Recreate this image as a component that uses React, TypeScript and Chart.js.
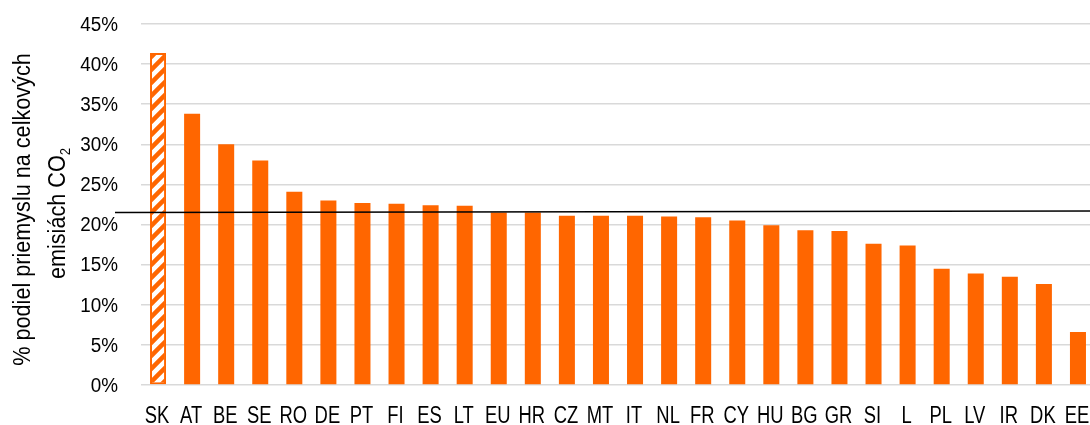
import React, { useEffect, useRef } from 'react';
import { Chart, registerables } from 'chart.js';

Chart.register(...registerables);

const categories = ['SK', 'AT', 'BE', 'SE', 'RO', 'DE', 'PT', 'FI', 'ES', 'LT', 'EU', 'HR', 'CZ', 'MT', 'IT', 'NL', 'FR', 'CY', 'HU', 'BG', 'GR', 'SI', 'L', 'PL', 'LV', 'IR', 'DK', 'EE'];
const shares = [41.4, 33.8, 30.0, 28.0, 24.1, 23.0, 22.7, 22.6, 22.4, 22.35, 21.5, 21.5, 21.1, 21.1, 21.1, 21.0, 20.9, 20.5, 19.9, 19.3, 19.2, 17.6, 17.4, 14.5, 13.9, 13.5, 12.6, 6.6];
const averageLine = [21.5, 21.7]; // start / end value of the reference line
const yMin = 0;
const yMax = 45;
const yStep = 5;
const yTitle = ['% podiel priemyslu na celkových', 'emisiách CO\u2082'];
const highlighted = ['SK'];

const ORANGE = '#FF6600';
const FONT = "'Liberation Sans', Arial, sans-serif";

function makeHatch(): CanvasPattern | string {
  const size = 13;
  const c = document.createElement('canvas');
  c.width = size;
  c.height = size;
  const g = c.getContext('2d');
  if (!g) return ORANGE;
  g.fillStyle = 'rgba(255,255,255,0.85)';
  g.fillRect(0, 0, size, size);
  g.strokeStyle = ORANGE;
  g.lineWidth = 4.5;
  g.beginPath();
  g.moveTo(-size / 2, size / 2);
  g.lineTo(size / 2, -size / 2);
  g.moveTo(0, size);
  g.lineTo(size, 0);
  g.moveTo(size / 2, size * 1.5);
  g.lineTo(size * 1.5, size / 2);
  g.stroke();
  const p = g.createPattern(c, 'repeat');
  return p || ORANGE;
}

const avgLinePlugin = {
  id: 'avgLine',
  afterDatasetsDraw(chart: any) {
    const { ctx, chartArea, scales } = chart;
    const y = scales.y;
    const y0 = y.getPixelForValue(averageLine[0]);
    const y1 = y.getPixelForValue(averageLine[1]);
    ctx.save();
    ctx.strokeStyle = '#000000';
    ctx.lineWidth = 1.5;
    ctx.beginPath();
    ctx.moveTo(chartArea.left - 26, y0);
    ctx.lineTo(chart.width, y1);
    ctx.stroke();
    ctx.restore();
  },
};

// Draws condensed tick labels and the axis title (the reference uses narrow lettering)
const textPlugin = {
  id: 'condensedText',
  afterDraw(chart: any) {
    const { ctx, chartArea, scales } = chart;
    ctx.save();
    ctx.fillStyle = '#000';
    ctx.textBaseline = 'alphabetic';

    // x labels
    ctx.font = `23px ${FONT}`;
    ctx.textAlign = 'center';
    scales.x.ticks.forEach((t: any, i: number) => {
      const x = scales.x.getPixelForTick(i);
      ctx.save();
      ctx.translate(x - 1, chartArea.bottom + 38.3);
      ctx.scale(0.8, 1);
      ctx.fillText(String(scales.x.getLabelForValue(t.value)), 0, 0);
      ctx.restore();
    });

    // y labels
    ctx.font = `20.5px ${FONT}`;
    ctx.textAlign = 'right';
    scales.y.ticks.forEach((t: any) => {
      const y = scales.y.getPixelForValue(t.value);
      ctx.save();
      ctx.translate(chartArea.left - 23, y + 6.8);
      ctx.scale(0.92, 1);
      ctx.fillText(`${t.value}%`, 0, 0);
      ctx.restore();
    });

    // y title (rotated, two lines, real subscript)
    const midY = (chartArea.top + chartArea.bottom) / 2;
    const lines = [
      { text: yTitle[0], x: 30, y: midY + 5 },
      { text: yTitle[1], x: 65, y: midY + 9 },
    ];
    ctx.textAlign = 'left';
    lines.forEach((ln) => {
      const parts: { s: string; sub: boolean }[] = [];
      let buf = '';
      for (const ch of ln.text) {
        if (ch === '\u2082') {
          if (buf) parts.push({ s: buf, sub: false });
          buf = '';
          parts.push({ s: '2', sub: true });
        } else buf += ch;
      }
      if (buf) parts.push({ s: buf, sub: false });
      const widths = parts.map((p) => {
        ctx.font = p.sub ? `14px ${FONT}` : `23px ${FONT}`;
        return ctx.measureText(p.s).width;
      });
      const total = widths.reduce((a, b) => a + b, 0);
      ctx.save();
      ctx.translate(ln.x, ln.y);
      ctx.rotate(-Math.PI / 2);
      ctx.scale(0.94, 1);
      let cx = -total / 2;
      parts.forEach((p, i) => {
        ctx.font = p.sub ? `14px ${FONT}` : `23px ${FONT}`;
        ctx.fillText(p.s, cx, p.sub ? 5 : 0);
        cx += widths[i];
      });
      ctx.restore();
    });
    ctx.restore();
  },
};

export default function App() {
  const ref = useRef<HTMLCanvasElement>(null);

  useEffect(() => {
    if (!ref.current) return;
    const hatch = makeHatch();
    const bg = categories.map((c) => (highlighted.includes(c) ? hatch : ORANGE));
    const bw = categories.map((c) => (highlighted.includes(c) ? 2 : 0));

    const chart = new Chart(ref.current, {
      type: 'bar',
      data: {
        labels: categories,
        datasets: [
          {
            data: shares,
            backgroundColor: bg as any,
            borderColor: ORANGE,
            borderWidth: bw,
            borderSkipped: false,
            barPercentage: 0.47,
            categoryPercentage: 1,
          },
        ],
      },
      options: {
        responsive: false,
        animation: false,
        devicePixelRatio: 1,
        layout: { padding: { top: 24, right: 0, bottom: 0, left: 0 } },
        plugins: {
          legend: { display: false },
          tooltip: { enabled: false },
        },
        scales: {
          x: {
            grid: { display: false, drawTicks: false },
            border: { display: false },
            ticks: { display: false, autoSkip: false, maxRotation: 0 },
            afterFit(scale: any) {
              scale.height = 40;
              scale.paddingLeft = 0;
              scale.paddingRight = 0;
            },
          },
          y: {
            min: yMin,
            max: yMax,
            grid: { color: '#d9d9d9', lineWidth: 1.5, drawTicks: false },
            border: { display: false },
            ticks: { display: false, stepSize: yStep },
            title: { display: false },
            afterFit(scale: any) {
              scale.width = 141;
              scale.paddingTop = 0;
              scale.paddingBottom = 0;
            },
          },
        },
      },
      plugins: [avgLinePlugin, textPlugin],
    });
    return () => chart.destroy();
  }, []);

  return (
    <div style={{ position: 'fixed', left: 0, top: 0, width: 1090, height: 425, overflow: 'hidden', background: '#fff' }}>
      <canvas ref={ref} width={1095} height={425} style={{ display: 'block' }} />
    </div>
  );
}
